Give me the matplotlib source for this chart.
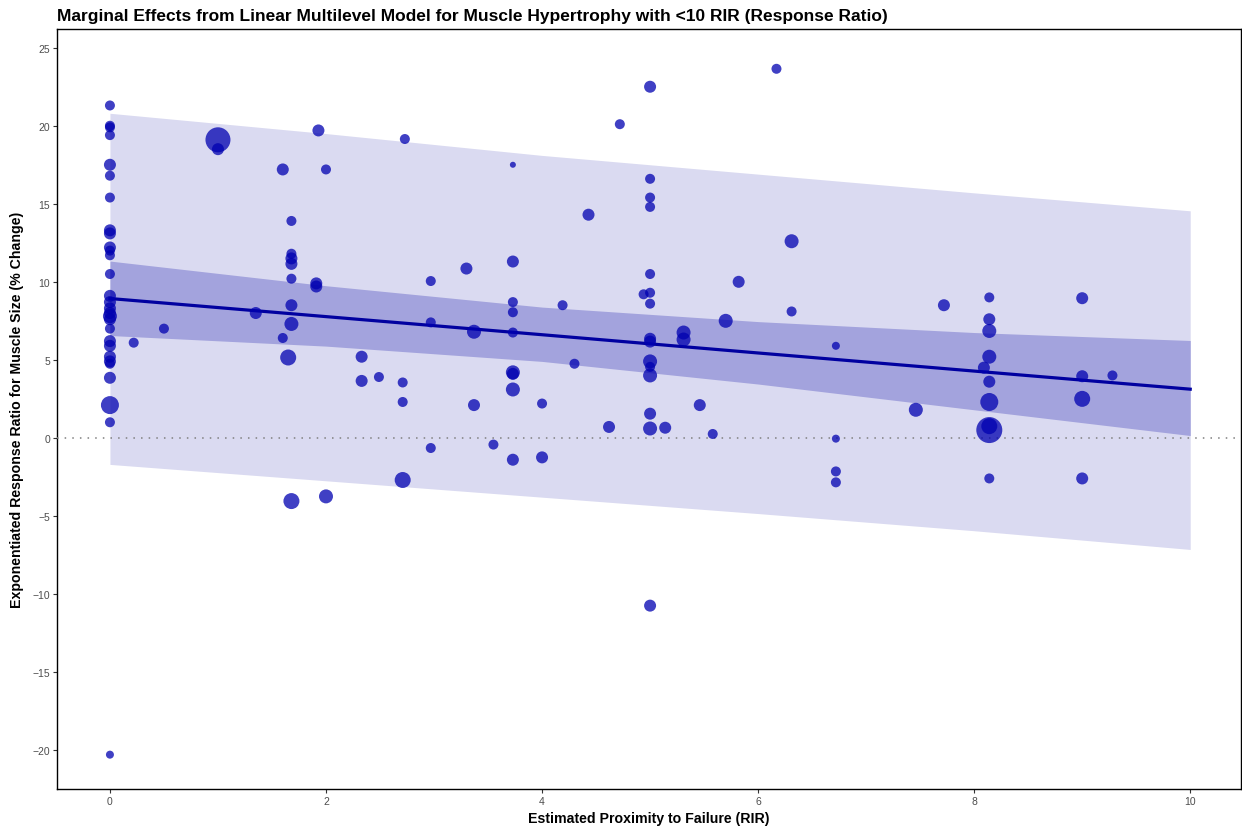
import numpy as np
import matplotlib
matplotlib.use('Agg')
import matplotlib.pyplot as plt

plt.rcParams['font.family'] = ['Liberation Sans', 'DejaVu Sans']
plt.rcParams['axes.unicode_minus'] = True

# observed effects: RIR, response ratio (% change), study weight
rir = [0, 0, 0, 0, 0, 0, 0, 0, 0, 0, 0, 0, 0, 0, 0, 0, 0, 0, 0, 0,
       0, 0, 0, 0, 0, 0, 0, 0, 0,
       0.22, 0.5, 1.0, 1.0, 1.35, 1.6, 1.6,
       1.68, 1.68, 1.68, 1.68, 1.68, 1.68, 1.68, 1.65, 1.68,
       1.93, 1.91, 1.91, 2.0, 2.0, 2.33, 2.33, 2.49,
       2.71, 2.71, 2.71, 2.73, 2.97, 2.97, 2.97,
       3.3, 3.37, 3.37, 3.55,
       3.73, 3.73, 3.73, 3.73, 3.73, 3.73, 3.73, 3.73, 3.73,
       4.0, 4.0, 4.19, 4.3, 4.43, 4.62, 4.72, 4.94,
       5.0, 5.0, 5.0, 5.0, 5.0, 5.0, 5.0, 5.0, 5.0, 5.0, 5.0, 5.0, 5.0, 5.0, 5.0,
       5.14, 5.31, 5.31, 5.46, 5.58, 5.7, 5.82, 6.17, 6.31, 6.31,
       6.72, 6.72, 6.72, 6.72, 7.46, 7.72, 8.09,
       8.14, 8.14, 8.14, 8.14, 8.14, 8.14, 8.14, 8.14, 8.14,
       9.0, 9.0, 9.0, 9.0, 9.28]
resp = [21.3, 20.0, 19.9, 19.4, 17.5, 16.8, 15.4, 13.3, 13.1, 12.2,
        12.0, 11.7, 10.5, 9.1, 8.7, 8.3, 8.0, 7.8, 7.6, 7.0,
        6.2, 5.9, 5.2, 4.9, 4.75, 3.85, 2.1, 1.0, -20.3,
        6.1, 7.0, 19.1, 18.5, 8.0, 17.2, 6.4,
        13.9, 11.8, 11.5, 11.15, 10.2, 8.5, 7.3, 5.15, -4.05,
        19.7, 9.9, 9.7, 17.2, -3.75, 5.2, 3.65, 3.9,
        3.55, 2.3, -2.7, 19.15, 10.05, 7.4, -0.65,
        10.85, 6.8, 2.1, -0.43,
        17.5, 11.3, 8.7, 8.05, 6.75, 4.2, 4.1, 3.1, -1.4,
        2.2, -1.25, 8.5, 4.75, 14.3, 0.7, 20.1, 9.2,
        22.5, 16.6, 15.4, 14.8, 10.5, 9.3, 8.6, 6.35, 6.17, 4.9, 4.55, 4.0, 1.55, 0.6, -10.75,
        0.65, 6.75, 6.3, 2.1, 0.25, 7.5, 10.0, 23.65, 12.6, 8.1,
        5.9, -0.05, -2.15, -2.85, 1.8, 8.5, 4.5,
        9.0, 7.6, 6.85, 5.2, 3.6, 2.3, 0.5, 0.75, -2.6,
        8.95, 3.95, 2.5, -2.6, 4.0]
weight = [5, 5, 5, 5, 6, 5, 5, 6, 6, 6, 5, 5, 5, 6, 6, 6, 6, 7, 6, 5,
          6, 6, 6, 6, 5, 6, 9, 5, 4,
          5, 5, 12.5, 6, 6, 6, 5,
          5, 5, 6, 6, 5, 6, 7, 8, 8,
          6, 6, 6, 5, 7, 6, 6, 5,
          5, 5, 8, 5, 5, 5, 5,
          6, 7, 6, 5,
          3, 6, 5, 5, 5, 7, 6, 7, 6,
          5, 6, 5, 5, 6, 6, 5, 5,
          6, 5, 5, 5, 5, 5, 5, 6, 6, 7, 5, 7, 6, 7, 6,
          6, 7, 7, 6, 5, 7, 6, 5, 7, 5,
          4, 4, 5, 5, 7, 6, 6,
          5, 6, 7, 7, 6, 9, 13, 8, 5,
          6, 6, 8, 6, 5]

# model marginal effects with confidence / prediction intervals
grid_x = [0, 2, 4, 6, 8, 10]
fit = [8.93, 7.77, 6.61, 5.44, 4.28, 3.12]
ci_low = [6.56, 5.88, 4.9, 3.45, 1.8, 0.15]
ci_high = [11.33, 9.75, 8.38, 7.45, 6.75, 6.24]
pi_low = [-1.7, -2.75, -3.8, -4.85, -5.95, -7.15]
pi_high = [20.8, 19.5, 18.1, 16.9, 15.7, 14.55]

fig = plt.figure(figsize=(12.42, 8.28), dpi=100)
ax = fig.add_axes([57 / 1242, 38 / 828, 1 - 58 / 1242, (790 - 30) / 828])

ax.fill_between(grid_x, pi_low, pi_high, color='#DADAF1', lw=0, zorder=1)
ax.fill_between(grid_x, ci_low, ci_high, color='#A3A3DD', lw=0, zorder=2)
ax.axhline(0, color='#7f7f7f', lw=1.1, ls=(0, (1, 4)), zorder=3)
ax.plot(grid_x, fit, color='#0000A0', lw=2.3, zorder=4)

sizes = (1.44 * np.array(weight)) ** 2
ax.scatter(rir, resp, s=sizes, color='#0000B0', alpha=0.75, lw=0, zorder=5)

ax.set_xlim(-0.49, 10.47)
ax.set_ylim(-22.5, 26.2)
ax.set_xticks(np.arange(0, 11, 2))
ax.set_yticks(np.arange(-20, 26, 5))
ax.tick_params(colors='#333333', labelcolor='#4D4D4D', labelsize=7.5, length=3, width=0.8, pad=2)
for s in ax.spines.values():
    s.set_color('black')
    s.set_linewidth(1.0)

ax.set_xlabel('Estimated Proximity to Failure (RIR)', fontsize=10.2, fontweight='bold', labelpad=4)
ax.set_ylabel('Exponentiated Response Ratio for Muscle Size (% Change)', fontsize=10.2,
              fontweight='bold', labelpad=6)
fig.text(57 / 1242, 1 - 17 / 828, 'Marginal Effects from Linear Multilevel Model for Muscle Hypertrophy with <10 RIR (Response Ratio)',
         fontsize=12.5, fontweight='bold', ha='left', va='center')

fig.savefig('out.png', dpi=100)
